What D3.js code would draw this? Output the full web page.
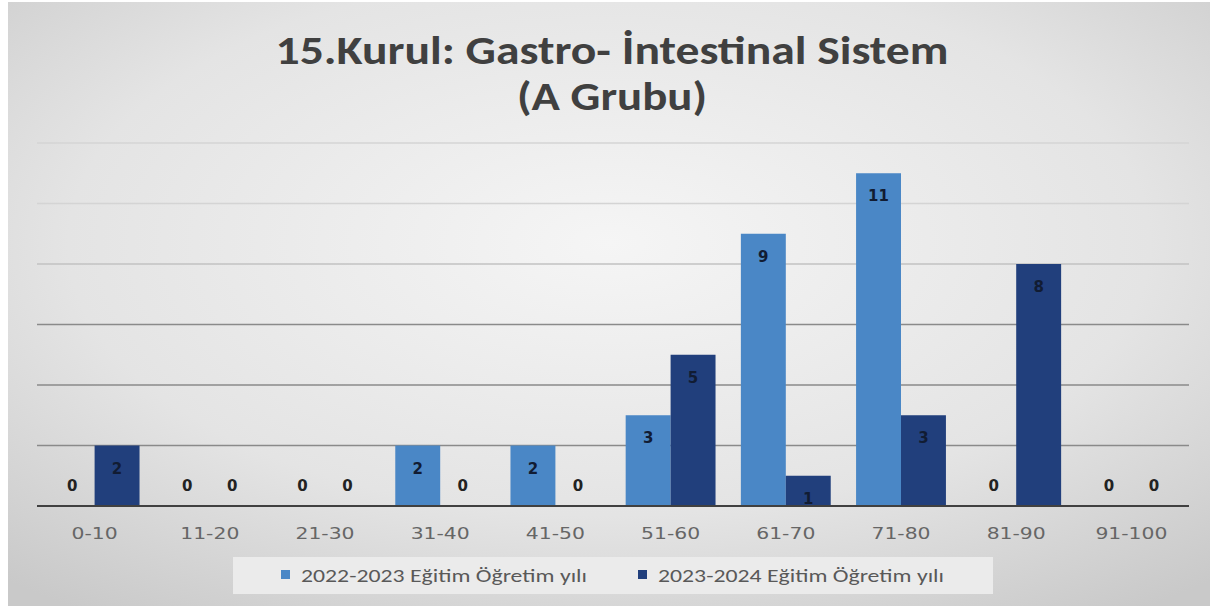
<!DOCTYPE html>
<html>
<head>
<meta charset="utf-8">
<script src="https://cdn.jsdelivr.net/npm/d3@7"></script>
<style>
  body { margin: 0; background: #fff; }
  svg { display: block; }
</style>
</head>
<body>
<div id="chart"></div>
<script>
const categories = ['0-10', '11-20', '21-30', '31-40', '41-50', '51-60', '61-70', '71-80', '81-90', '91-100'];
const series2022 = [0, 0, 0, 2, 2, 3, 9, 11, 0, 0];
const series2023 = [2, 0, 0, 0, 0, 5, 1, 3, 8, 0];
const seriesNames = ['2022-2023 Eğitim Öğretim yılı', '2023-2024 Eğitim Öğretim yılı'];
const yTicks = [0, 2, 4, 6, 8, 10, 12];
const titleLines = ['15.Kurul: Gastro- İntestinal Sistem', '(A Grubu)'];

const colors = ['#4a87c6', '#213f7c'];
const W = 1219, H = 610;

const svg = d3.select('#chart').append('svg')
    .attr('width', W)
    .attr('height', H);

// background panel with soft vignette
const defs = svg.append('defs');
const grad = defs.append('radialGradient')
    .attr('id', 'bg')
    .attr('cx', '50%').attr('cy', '40%').attr('r', '75%');
grad.append('stop').attr('offset', '0%').attr('stop-color', '#f5f5f5');
grad.append('stop').attr('offset', '60%').attr('stop-color', '#e4e4e4');
grad.append('stop').attr('offset', '100%').attr('stop-color', '#c9c9c9');

svg.append('rect')
    .attr('x', 8).attr('y', 2)
    .attr('width', 1202).attr('height', 604)
    .attr('fill', 'url(#bg)');

// title (narrow bold face, stretched to the width of the original)
const titleWidths = [673, 190];
const title = svg.append('g');
titleLines.forEach((t, i) => {
    title.append('text')
        .attr('x', 612)
        .attr('y', 64 + i * 46)
        .attr('text-anchor', 'middle')
        .attr('font-family', "Carlito, 'Liberation Sans Narrow', 'Open Sans', sans-serif")
        .attr('font-weight', 'bold')
        .attr('font-size', 41)
        .attr('fill', '#404040')
        .attr('textLength', titleWidths[i])
        .attr('lengthAdjust', 'spacingAndGlyphs')
        .text(t);
});

const margin = { left: 37, right: 30, top: 143, bottom: 104 };
const x = d3.scaleBand()
    .domain(categories)
    .range([margin.left, W - margin.right])
    .paddingInner(0.22)
    .paddingOuter(0.11);
const x1 = d3.scaleBand()
    .domain([0, 1])
    .range([0, x.bandwidth()]);
const y = d3.scaleLinear()
    .domain([0, 12])
    .range([H - margin.bottom, margin.top]);

// gridlines
svg.append('g')
    .selectAll('line')
    .data(yTicks.slice(1))
    .join('line')
    .attr('x1', margin.left)
    .attr('x2', W - margin.right)
    .attr('y1', d => y(d))
    .attr('y2', d => y(d))
    .attr('stroke', d => d >= 10 ? '#d4d4d4' : (d >= 8 ? '#c2c2c2' : '#8a8a8a'))
    .attr('stroke-width', 1.3);

const rows = [];
categories.forEach((c, i) => {
    rows.push({ cat: c, s: 0, v: series2022[i] });
    rows.push({ cat: c, s: 1, v: series2023[i] });
});

svg.append('g')
    .selectAll('rect')
    .data(rows.filter(d => d.v > 0))
    .join('rect')
    .attr('x', d => x(d.cat) + x1(d.s))
    .attr('y', d => y(d.v))
    .attr('width', x1.bandwidth())
    .attr('height', d => y(0) - y(d.v))
    .attr('fill', d => colors[d.s]);

// baseline
svg.append('line')
    .attr('x1', margin.left)
    .attr('x2', W - margin.right)
    .attr('y1', y(0))
    .attr('y2', y(0))
    .attr('stroke', '#404040')
    .attr('stroke-width', 2);

// data labels
svg.append('g')
    .selectAll('text')
    .data(rows)
    .join('text')
    .attr('x', d => x(d.cat) + x1(d.s) + x1.bandwidth() / 2)
    .attr('y', d => d.v > 0 ? y(d.v) + 28 : y(0) - 15)
    .attr('text-anchor', 'middle')
    .attr('font-family', "'DejaVu Sans', Verdana, sans-serif")
    .attr('font-weight', 'bold')
    .attr('font-size', 15)
    .attr('fill', d => d.v > 0 ? '#111c33' : '#222')
    .text(d => d.v);

// x axis labels (the original face is wide, so stretch a little)
svg.append('g')
    .selectAll('text')
    .data(categories)
    .join('text')
    .attr('x', d => x(d) + x.bandwidth() / 2)
    .attr('y', y(0) + 33)
    .attr('text-anchor', 'middle')
    .attr('font-family', "'DejaVu Sans', Verdana, sans-serif")
    .attr('font-size', 16)
    .attr('fill', '#666666')
    .text(d => d)
    .each(function() {
        const len = this.getComputedTextLength();
        d3.select(this)
            .attr('textLength', len * 1.27)
            .attr('lengthAdjust', 'spacingAndGlyphs');
    });

// legend
const legend = svg.append('g');
legend.append('rect')
    .attr('x', 233).attr('y', 557)
    .attr('width', 760).attr('height', 37)
    .attr('fill', '#ebebeb');
const legendX = [281, 638];
seriesNames.forEach((n, i) => {
    legend.append('rect')
        .attr('x', legendX[i])
        .attr('y', 570)
        .attr('width', 9).attr('height', 9)
        .attr('fill', colors[i]);
    legend.append('text')
        .attr('x', legendX[i] + 20)
        .attr('y', 582)
        .attr('font-family', "Carlito, 'Liberation Sans Narrow', 'Open Sans', sans-serif")
        .attr('font-size', 18)
        .attr('fill', '#595959')
        .attr('textLength', 286)
        .attr('lengthAdjust', 'spacingAndGlyphs')
        .text(n);
});
</script>
</body>
</html>
